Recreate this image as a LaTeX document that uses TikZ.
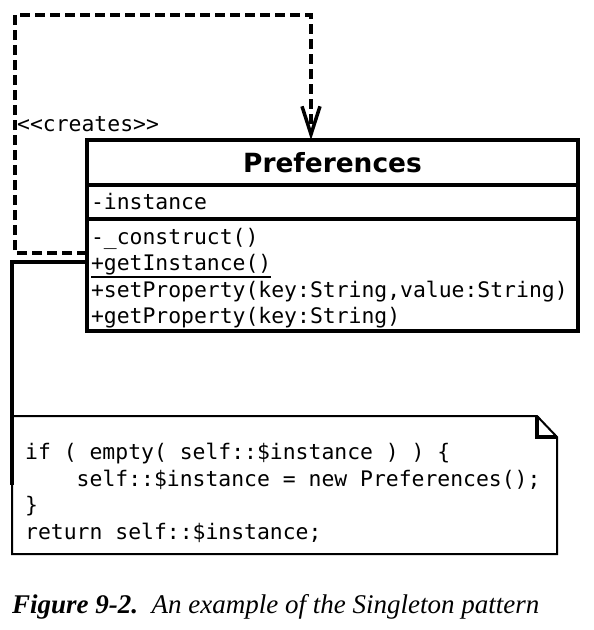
\documentclass[tikz,border=0pt]{standalone}
\usepackage{fontspec}
\setmainfont{Liberation Serif}
\setsansfont{DejaVu Sans}
\setmonofont{DejaVu Sans Mono}
\usetikzlibrary{positioning,arrows.meta}

\newsavebox{\ulbox}
\newcommand{\ulined}[1]{\leavevmode\sbox{\ulbox}{#1}\rlap{\rule[-7.5pt]{\wd\ulbox}{2.5pt}}\usebox{\ulbox}}

\begin{document}
\begin{tikzpicture}[x=1pt, y=-1pt,
    clsname/.style={draw, line width=3.5pt, outer sep=0pt, minimum width=491pt, minimum height=45pt, font=\fontsize{26.4}{30}\selectfont\sffamily\bfseries},
    sect/.style={draw, line width=3.5pt, outer sep=0pt, inner xsep=4pt, inner ysep=0pt, text width=483pt, align=left, font=\fontsize{21.4}{26.5}\selectfont\ttfamily},
    code/.style={inner sep=0pt, align=left, font=\fontsize{21.4}{26.5}\selectfont\ttfamily},
    notebox/.style={draw, line width=2pt},
    fold/.style={draw, line width=4pt},
    creates/.style={draw, dash pattern=on 10pt off 5pt, line width=3.5pt, -{Straight Barb[length=28pt,width=18pt]}},
    link/.style={draw, line width=4pt}
]
\useasboundingbox (0,0) rectangle (594,630);

% Classe
\node[clsname] (cls) at (332.5,162.5) {Preferences};
\node[sect, minimum height=34pt, below=0pt of cls] (attrs) {-instance};
\node[sect, minimum height=112pt, below=0pt of attrs] (ops) {\rule{0pt}{22.5pt}-\_construct()\\ \ulined{+getInstance()}\\ +setProperty(key:String,value:String)\\ +getProperty(key:String)};

% Note
\node[minimum width=545pt, minimum height=138pt, outer sep=0pt, anchor=north west] (note) at (12,416) {};
\draw[notebox] (note.north west) -- ([xshift=-20pt]note.north east) -- ([yshift=-21pt]note.north east) -- (note.south east) -- (note.south west) -- cycle;
\draw[fold] ([xshift=-20pt]note.north east) |- ([yshift=-21pt]note.north east);
\node[code, anchor=west] (php) at ([xshift=13pt,yshift=-8pt]note.west) {if ( empty( self::\$instance ) ) \{\\ \hphantom{0000}self::\$instance = new Preferences();\\ \}\\ return self::\$instance;};

% Liens
\draw[creates] ([yshift=-34pt]ops.north west) -| (15,15) -| ([xshift=224pt]cls.north west);
\node[code, anchor=west] (stereo) at (17,124) {<<creates>>};
\draw[link] ([yshift=-43pt]ops.north west) -| (note.west);

% Legende
\node[anchor=west, inner sep=0pt, font=\fontsize{27}{32}\selectfont\itshape] (caption) at (12,607) {\textbf{Figure 9-2.}\enspace An example of the Singleton pattern};
\end{tikzpicture}
\end{document}
